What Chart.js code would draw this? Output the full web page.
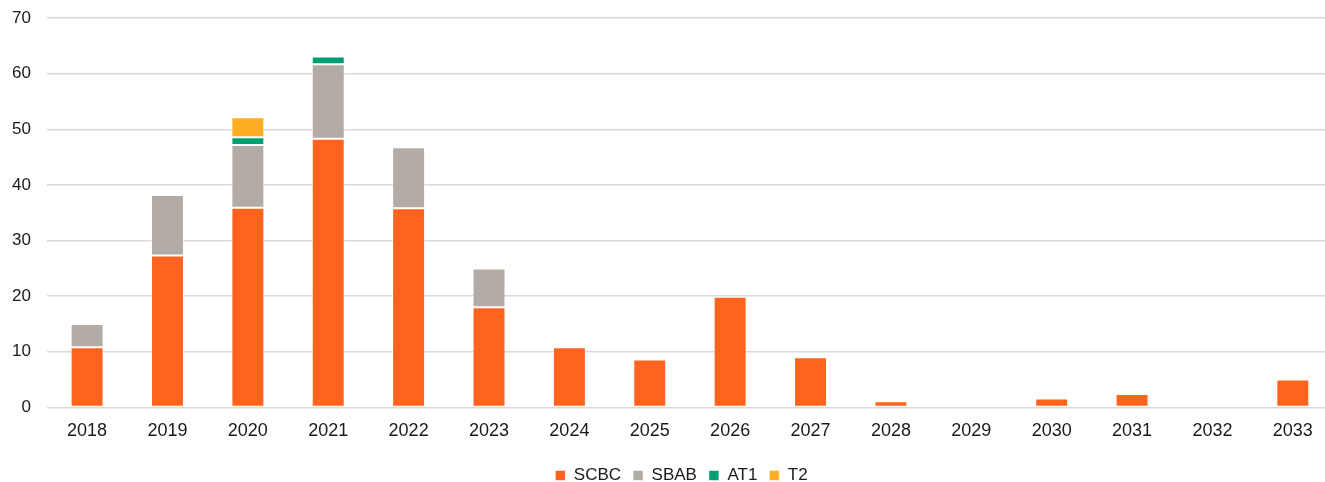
<!DOCTYPE html>
<html>
<head>
<meta charset="utf-8">
<script src="https://cdn.jsdelivr.net/npm/chart.js@4/dist/chart.umd.min.js"></script>
<style>
  html, body { margin: 0; padding: 0; background: #fff; overflow: hidden; }
  #wrap { position: relative; width: 1370px; height: 502px; margin-left: -4px; margin-top: -8px; }
</style>
</head>
<body>
<div id="wrap"><canvas id="bondChart"></canvas></div>
<script>
// ── Data ──────────────────────────────────────────────────────
const years = ['2018', '2019', '2020', '2021', '2022', '2023', '2024', '2025',
               '2026', '2027', '2028', '2029', '2030', '2031', '2032', '2033'];

const scbc = [10.8, 27.3, 35.9, 48.3, 35.8, 18.0, 10.8, 8.6, 19.9, 9.0, 1.1, 0.15, 1.6, 2.4, 0, 5.0];
const sbab = [4.2, 10.9, 11.3, 13.4, 11.0, 7.0, 0, 0, 0, 0, 0, 0, 0, 0, 0, 0];
const at1  = [0, 0, 1.4, 1.4, 0, 0, 0, 0, 0, 0, 0, 0, 0, 0, 0, 0];
const t2   = [0, 0, 3.6, 0, 0, 0, 0, 0, 0, 0, 0, 0, 0, 0, 0, 0];

const yTicks = [0, 10, 20, 30, 40, 50, 60, 70];

// ── Style ─────────────────────────────────────────────────────
Chart.defaults.font.family = "'Liberation Sans', Arial, sans-serif";
Chart.defaults.color = '#1a1a1a';

const barStyle = {
    stack: 'all',
    barPercentage: 0.41,
    categoryPercentage: 1.0,
    borderWidth: 1,
    borderColor: 'rgba(255,255,255,0.55)',
    borderSkipped: false
};

// nudge legend so it sits centred under the plot like the original
const legendShift = {
    id: 'legendShift',
    afterLayout(chart) {
        const lg = chart.legend;
        if (!lg) return;
        lg.left += 17;
        lg.right += 17;
    }
};

new Chart(document.getElementById('bondChart'), {
    type: 'bar',
    data: {
        labels: years,
        datasets: [
            { label: 'SCBC', data: scbc, backgroundColor: '#FF631E', ...barStyle },
            { label: 'SBAB', data: sbab, backgroundColor: '#B3ACA6', ...barStyle },
            { label: 'AT1',  data: at1,  backgroundColor: '#009E73', ...barStyle },
            { label: 'T2',   data: t2,   backgroundColor: '#FFAE22', ...barStyle }
        ]
    },
    plugins: [legendShift],
    options: {
        responsive: true,
        maintainAspectRatio: false,
        animation: false,
        layout: { padding: { top: 0, left: 0, right: 33, bottom: 0 } },
        plugins: {
            tooltip: { enabled: false },
            legend: {
                position: 'bottom',
                labels: {
                    boxWidth: 10,
                    boxHeight: 10,
                    padding: 12,
                    font: { size: 17 },
                    color: '#1a1a1a'
                }
            }
        },
        scales: {
            x: {
                stacked: true,
                grid: { display: false },
                border: { display: false },
                afterFit: axis => { axis.height += 8; },
                ticks: { font: { size: 18 }, padding: 5, color: '#1a1a1a' }
            },
            y: {
                stacked: true,
                min: 0,
                max: 70,
                afterBuildTicks: axis => { axis.ticks = yTicks.map(v => ({ value: v })); },
                grid: { color: '#d9d9d9', lineWidth: 1.5, drawTicks: false },
                border: { display: false },
                ticks: { font: { size: 17 }, padding: 16, color: '#1a1a1a' }
            }
        }
    }
});
</script>
</body>
</html>
